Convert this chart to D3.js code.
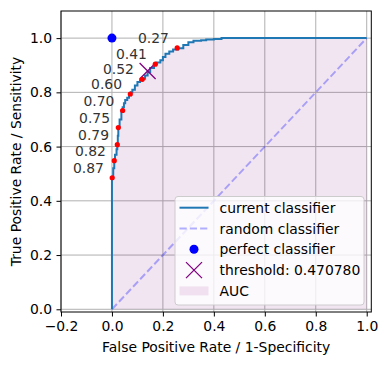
<!DOCTYPE html>
<html lang="en">
<head>
<meta charset="utf-8">
<title>ROC curve</title>
<script src="https://d3js.org/d3.v7.min.js"></script>
<style>
  body { margin: 0; background: #fff; }
  svg { font-family: "DejaVu Sans", sans-serif; }
</style>
</head>
<body>
<script>
// ROC curve step vertices
const fpr = [0, 0, 0.005, 0.009, 0.012, 0.018, 0.021, 0.023, 0.025, 0.03, 0.037, 0.042, 0.047, 0.052,
             0.06, 0.067, 0.075, 0.08, 0.09, 0.1, 0.11, 0.12, 0.13, 0.14, 0.15, 0.165, 0.175, 0.19,
             0.2, 0.21, 0.225, 0.24, 0.26, 0.28, 0.3, 0.32, 0.35, 0.37, 0.4, 0.43, 1.0];
const tpr = [0, 0.487, 0.52, 0.549, 0.57, 0.59, 0.607, 0.64, 0.671, 0.70, 0.733, 0.745, 0.76, 0.772,
             0.78, 0.789, 0.80, 0.81, 0.825, 0.838, 0.845, 0.85, 0.862, 0.875, 0.89, 0.905, 0.91, 0.918,
             0.93, 0.942, 0.951, 0.958, 0.963, 0.975, 0.985, 0.99, 0.992, 0.995, 0.997, 1.0, 1.0];

// labelled thresholds and where they sit on the curve
const thrLabels = ["0.87", "0.82", "0.79", "0.75", "0.70", "0.60", "0.52", "0.41", "0.27"];
const thrFpr = [0.001, 0.009, 0.021, 0.025, 0.042, 0.072, 0.119, 0.170, 0.256];
const thrTpr = [0.485, 0.548, 0.607, 0.670, 0.733, 0.794, 0.848, 0.904, 0.964];

// chosen threshold
const bestThr = 0.470780;
const bestPoint = [0.140, 0.879];

const xTicks = [-0.2, 0, 0.2, 0.4, 0.6, 0.8, 1.0];
const yTicks = [0, 0.2, 0.4, 0.6, 0.8, 1.0];

const W = 387, H = 365;
const mLeft = 61, mRight = 371.3, mTop = 11, mBottom = 312;
const fs = 13.9;

const x = d3.scaleLinear().domain([-0.2, 1.018]).range([mLeft, mRight]);
const y = d3.scaleLinear().domain([-0.01, 1.1]).range([mBottom, mTop]);

const fmt = d => d3.format(".1f")(d).replace("-", "\u2212");

const svg = d3.select("body").append("svg")
    .attr("width", W).attr("height", H);

svg.append("defs").append("clipPath").attr("id", "clip")
  .append("rect").attr("x", mLeft).attr("y", mTop)
  .attr("width", mRight - mLeft).attr("height", mBottom - mTop);

// grid
svg.append("g").selectAll("line").data(xTicks).join("line")
    .attr("x1", d => x(d)).attr("x2", d => x(d))
    .attr("y1", mTop).attr("y2", mBottom)
    .attr("stroke", "#b0b0b0").attr("stroke-width", 1);
svg.append("g").selectAll("line").data(yTicks).join("line")
    .attr("x1", mLeft).attr("x2", mRight)
    .attr("y1", d => y(d)).attr("y2", d => y(d))
    .attr("stroke", "#b0b0b0").attr("stroke-width", 1);

const pts = fpr.map((f, i) => [f, tpr[i]]);
const plot = svg.append("g").attr("clip-path", "url(#clip)");

// AUC fill
plot.append("path").datum(pts)
    .attr("d", d3.area().x(d => x(d[0])).y0(y(0)).y1(d => y(d[1])).curve(d3.curveStepAfter))
    .attr("fill", "purple").attr("fill-opacity", 0.1);

// random classifier
plot.append("line")
    .attr("x1", x(0)).attr("y1", y(0)).attr("x2", x(1)).attr("y2", y(1))
    .attr("stroke", "#0000ff").attr("stroke-opacity", 0.3)
    .attr("stroke-width", 2).attr("stroke-dasharray", "7.2,3.1");

// current classifier
plot.append("path").datum(pts)
    .attr("d", d3.line().x(d => x(d[0])).y(d => y(d[1])).curve(d3.curveStepAfter))
    .attr("fill", "none").attr("stroke", "#1f77b4").attr("stroke-width", 2);

// perfect classifier
plot.append("circle").attr("cx", x(0)).attr("cy", y(1)).attr("r", 4.5).attr("fill", "#0000ff");

// threshold marker
const cross = (g, cx, cy, s) => {
  g.append("path")
    .attr("d", `M${cx - s},${cy - s}L${cx + s},${cy + s}M${cx - s},${cy + s}L${cx + s},${cy - s}`)
    .attr("stroke", "purple").attr("stroke-width", 1.3).attr("fill", "none");
};
cross(plot, x(bestPoint[0]), y(bestPoint[1]), 8);

// threshold points + labels
plot.selectAll("circle.thr").data(thrLabels).join("circle").attr("class", "thr")
    .attr("cx", (d, i) => x(thrFpr[i])).attr("cy", (d, i) => y(thrTpr[i]))
    .attr("r", 2.6).attr("fill", "red");
svg.append("g").selectAll("text").data(thrLabels).join("text")
    .attr("x", (d, i) => x(thrFpr[i]) - 8.3).attr("y", (d, i) => y(thrTpr[i]) - 5)
    .attr("text-anchor", "end").attr("font-size", fs).attr("fill", "#333")
    .text(d => d);

// axes
const xAxis = svg.append("g").attr("transform", `translate(0,${mBottom})`)
    .call(d3.axisBottom(x).tickValues(xTicks).tickFormat(fmt).tickSizeOuter(0).tickSize(4.5).tickPadding(4.5));
const yAxis = svg.append("g").attr("transform", `translate(${mLeft},0)`)
    .call(d3.axisLeft(y).tickValues(yTicks).tickFormat(fmt).tickSizeOuter(0).tickSize(4.5).tickPadding(4.5));
[xAxis, yAxis].forEach(a => {
  a.select(".domain").remove();
  a.selectAll("text").attr("font-size", fs).attr("font-family", "DejaVu Sans").attr("fill", "#000");
  a.selectAll("line").attr("stroke", "#000").attr("stroke-width", 1);
});

// frame
svg.append("rect").attr("x", mLeft).attr("y", mTop)
    .attr("width", mRight - mLeft).attr("height", mBottom - mTop)
    .attr("fill", "none").attr("stroke", "#000").attr("stroke-width", 1);

// axis labels
svg.append("text").attr("x", (mLeft + mRight) / 2).attr("y", 351.5)
    .attr("text-anchor", "middle").attr("font-size", fs)
    .text("False Positive Rate / 1-Specificity");
svg.append("text").attr("transform", `translate(21,${(mTop + mBottom) / 2}) rotate(-90)`)
    .attr("text-anchor", "middle").attr("font-size", fs)
    .text("True Positive Rate / Sensitivity");

// legend
const lg = svg.append("g");
lg.append("rect").attr("x", 175).attr("y", 196.5).attr("width", 189).attr("height", 108.5)
    .attr("rx", 3).attr("fill", "#fff").attr("fill-opacity", 0.8)
    .attr("stroke", "#cccccc").attr("stroke-width", 1);
const rowY = i => 207.7 + i * 20.8;
const hx0 = 179.5, hx1 = 208.5, tx = 219.5;
lg.append("line").attr("x1", hx0).attr("x2", hx1).attr("y1", rowY(0)).attr("y2", rowY(0))
    .attr("stroke", "#1f77b4").attr("stroke-width", 2);
lg.append("line").attr("x1", hx0).attr("x2", hx1).attr("y1", rowY(1)).attr("y2", rowY(1))
    .attr("stroke", "#0000ff").attr("stroke-opacity", 0.3).attr("stroke-width", 2)
    .attr("stroke-dasharray", "7.2,3.1");
lg.append("circle").attr("cx", (hx0 + hx1) / 2).attr("cy", rowY(2)).attr("r", 4.5).attr("fill", "#0000ff");
cross(lg, (hx0 + hx1) / 2, rowY(3), 8);
lg.append("rect").attr("x", hx0).attr("y", rowY(4) - 4.5).attr("width", hx1 - hx0).attr("height", 9)
    .attr("fill", "purple").attr("fill-opacity", 0.1);
const legendText = ["current classifier", "random classifier", "perfect classifier",
                    "threshold: " + bestThr.toFixed(6), "AUC"];
lg.selectAll("text").data(legendText).join("text")
    .attr("x", tx).attr("y", (d, i) => rowY(i) + 5)
    .attr("font-size", fs).text(d => d);
</script>
</body>
</html>
